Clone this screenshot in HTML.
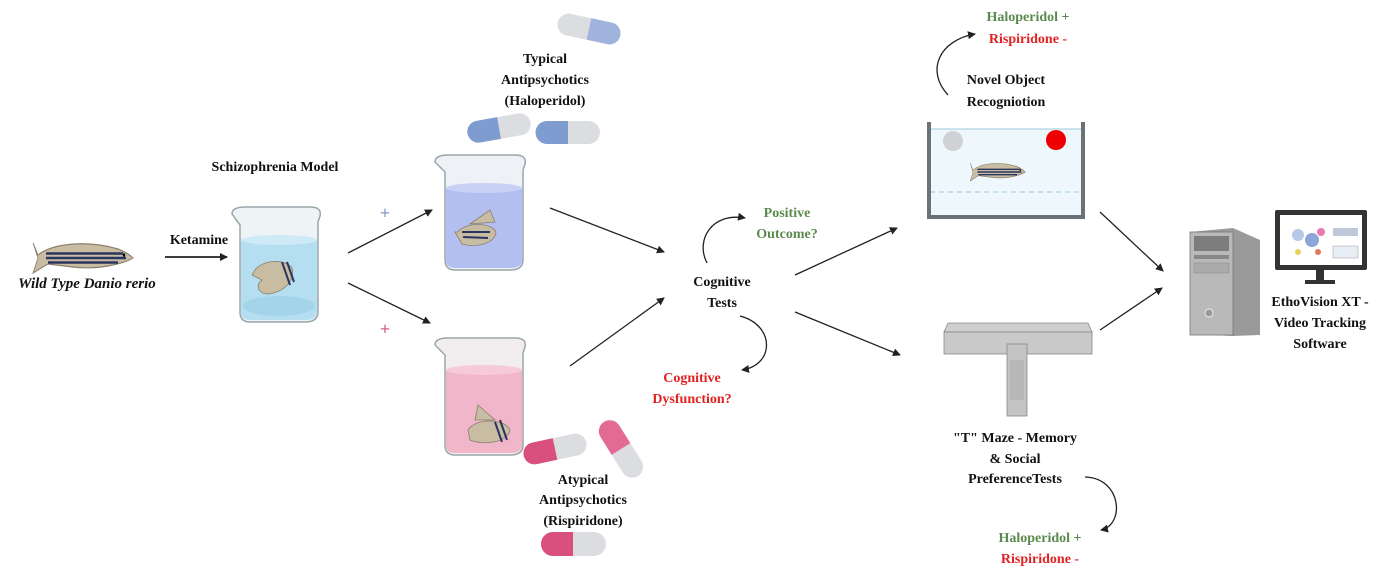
<!DOCTYPE html>
<html><head><meta charset="utf-8"><style>
body{margin:0;background:#fff}
svg{display:block}
text{font-family:"Liberation Serif",serif;font-weight:bold;font-size:14px;text-anchor:middle;fill:#111}
.g{fill:#5b8a4e}.r{fill:#e02222}
</style></head><body>
<svg width="1383" height="578" viewBox="0 0 1383 578" xmlns="http://www.w3.org/2000/svg">
<defs>
<marker id="a" markerWidth="8" markerHeight="8" refX="7" refY="4" orient="auto" markerUnits="userSpaceOnUse"><path d="M0,0 L8,4 L0,8 z" fill="#222"/></marker>
<g id="fish">
<path d="M0,8 C15,0 50,-2 80,4 C88,6 92,8 95,10 C85,14 60,18 35,16 L10,14 L-5,20 L0,10 L-5,0 z" fill="#c8bca2" stroke="#8a7f6a" stroke-width="0.8"/>
<path d="M8,7 L85,7 M8,10 L88,10 M10,13 L80,13" stroke="#2a3560" stroke-width="1.6"/>
<circle cx="86" cy="8" r="1.2" fill="#000"/>
</g>
</defs>

<!-- Left fish -->
<use href="#fish" transform="translate(38,243) scale(1,1.5)"/>
<text x="87" y="288" style="font-style:italic;font-size:15px">Wild Type Danio rerio</text>
<text x="199" y="244">Ketamine</text>
<line x1="165" y1="257" x2="227" y2="257" stroke="#222" stroke-width="1.8" marker-end="url(#a)"/>
<text x="275" y="171">Schizophrenia Model</text>

<!-- Beaker 1 -->
<g>
<path d="M232,214 Q232,207 245,207 L310,207 Q322,207 320,216 L318,222 L318,312 Q318,322 305,322 L250,322 Q240,322 240,312 L240,225 Z" fill="#eef3f5" stroke="#9aa5aa" stroke-width="1.5"/>
<path d="M241,240 L317,240 L317,312 Q317,320 305,320 L250,320 Q241,320 241,312 Z" fill="#b5dff0"/>
<ellipse cx="279" cy="240" rx="38" ry="5" fill="#cdeaf6"/>
<ellipse cx="279" cy="306" rx="36" ry="10" fill="#a4d4ea"/>
<path d="M255,270 C262,260 285,258 292,268 C295,280 285,292 268,294 C258,294 255,285 262,280 L252,275 Z" fill="#c8bca2" stroke="#8a7f6a" stroke-width="0.8"/>
<path d="M282,262 L290,285 M287,262 L294,282" stroke="#2a3560" stroke-width="2"/>
</g>

<line x1="348" y1="253" x2="432" y2="210" stroke="#222" stroke-width="1.3" marker-end="url(#a)"/>
<line x1="348" y1="283" x2="430" y2="323" stroke="#222" stroke-width="1.3" marker-end="url(#a)"/>
<text x="385" y="219" style="fill:#7f9cc8;font-size:18px">+</text>
<text x="385" y="335" style="fill:#d36088;font-size:18px">+</text>

<!-- Beaker 2 blue -->
<g>
<path d="M435,162 Q435,155 448,155 L515,155 Q527,155 525,164 L523,170 L523,260 Q523,270 510,270 L455,270 Q445,270 445,260 L445,172 Z" fill="#eef1f5" stroke="#9aa5aa" stroke-width="1.5"/>
<path d="M446,188 L522,188 L522,260 Q522,268 510,268 L455,268 Q446,268 446,260 Z" fill="#b3bff0"/>
<ellipse cx="484" cy="188" rx="38" ry="5" fill="#c9d2f6"/>
<path d="M458,232 C465,222 492,222 496,232 C495,244 475,248 462,244 L455,232 Z M470,224 L490,210 L495,222 Z" fill="#c8bca2" stroke="#8a7f6a" stroke-width="0.8"/>
<path d="M462,232 L490,232 M463,237 L488,238" stroke="#2a3560" stroke-width="2"/>
</g>

<!-- Beaker 3 pink -->
<g>
<path d="M435,345 Q435,338 448,338 L515,338 Q527,338 525,347 L523,353 L523,445 Q523,455 510,455 L455,455 Q445,455 445,445 L445,355 Z" fill="#f2eef0" stroke="#9aa5aa" stroke-width="1.5"/>
<path d="M446,370 L522,370 L522,445 Q522,453 510,453 L455,453 Q446,453 446,445 Z" fill="#f2b6ca"/>
<ellipse cx="484" cy="370" rx="38" ry="5" fill="#f6cad8"/>
<path d="M468,430 C475,418 505,418 510,430 C508,442 485,446 470,440 Z M475,420 L478,405 L495,420 Z" fill="#c8bca2" stroke="#8a7f6a" stroke-width="0.8"/>
<path d="M495,422 L502,442 M500,420 L507,440" stroke="#2a3560" stroke-width="2"/>
</g>

<!-- capsules blue -->
<g transform="rotate(12 589 29)"><rect x="557" y="18" width="64" height="22" rx="11" fill="#dcdde0"/><path d="M589,18 L610,18 A11,11 0 0 1 610,40 L589,40 Z" fill="#9fb3dc"/></g>
<text x="545" y="63">Typical</text>
<text x="545" y="84">Antipsychotics</text>
<text x="545" y="105">(Haloperidol)</text>
<g transform="rotate(-10 499 128)"><rect x="467" y="117" width="64" height="22" rx="11" fill="#dcdde0"/><path d="M499,117 L478,117 A11,11 0 0 0 478,139 L499,139 Z" fill="#7f9cd0"/></g>
<rect x="536" y="121" width="64" height="23" rx="11.5" fill="#dcdde0"/><path d="M568,121 L547,121 A11.5,11.5 0 0 0 547,144 L568,144 Z" fill="#7f9cd0"/>

<!-- capsules pink -->
<g transform="rotate(-12 555 449)"><rect x="523" y="438" width="64" height="22" rx="11" fill="#dcdde0"/><path d="M555,438 L534,438 A11,11 0 0 0 534,460 L555,460 Z" fill="#d94f7d"/></g>
<g transform="rotate(58 621 449)"><rect x="589" y="438" width="64" height="22" rx="11" fill="#dcdde0"/><path d="M621,438 L600,438 A11,11 0 0 0 600,460 L621,460 Z" fill="#e36a93"/></g>
<rect x="541" y="532" width="65" height="24" rx="12" fill="#dcdde0"/><path d="M573,532 L553,532 A12,12 0 0 0 553,556 L573,556 Z" fill="#d94f7d"/>
<text x="583" y="484">Atypical</text>
<text x="583" y="504">Antipsychotics</text>
<text x="583" y="525">(Rispiridone)</text>

<!-- to center -->
<line x1="550" y1="208" x2="664" y2="252" stroke="#222" stroke-width="1.3" marker-end="url(#a)"/>
<line x1="570" y1="366" x2="664" y2="298" stroke="#222" stroke-width="1.3" marker-end="url(#a)"/>
<text x="722" y="286">Cognitive</text>
<text x="722" y="307">Tests</text>
<path d="M707,263 C695,240 712,212 745,218" fill="none" stroke="#222" stroke-width="1.3" marker-end="url(#a)"/>
<text x="787" y="217" class="g">Positive</text>
<text x="787" y="238" class="g">Outcome?</text>
<path d="M740,316 C775,325 775,365 742,370" fill="none" stroke="#222" stroke-width="1.3" marker-end="url(#a)"/>
<text x="692" y="382" class="r">Cognitive</text>
<text x="692" y="403" class="r">Dysfunction?</text>

<line x1="795" y1="275" x2="897" y2="228" stroke="#222" stroke-width="1.3" marker-end="url(#a)"/>
<line x1="795" y1="312" x2="900" y2="355" stroke="#222" stroke-width="1.3" marker-end="url(#a)"/>

<!-- tank -->
<rect x="930" y="129" width="152" height="87" fill="#eef7fc"/>
<line x1="930" y1="129" x2="1082" y2="129" stroke="#9cc8dc" stroke-width="1"/>
<line x1="930" y1="192" x2="1082" y2="192" stroke="#9cc8dc" stroke-width="1" stroke-dasharray="5,4"/>
<rect x="927" y="122" width="4" height="97" fill="#6b7377"/>
<rect x="1081" y="122" width="4" height="97" fill="#6b7377"/>
<rect x="927" y="215" width="158" height="4" fill="#6b7377"/>
<circle cx="953" cy="141" r="10" fill="#cfd1d4"/>
<circle cx="1056" cy="140" r="10" fill="#ee0000"/>
<use href="#fish" transform="translate(973,163) scale(0.55,0.9)"/>
<text x="1006" y="84">Novel Object</text>
<text x="1006" y="106">Recogniotion</text>
<path d="M948,95 C925,70 940,40 975,34" fill="none" stroke="#222" stroke-width="1.3" marker-end="url(#a)"/>
<text x="1028" y="21" class="g">Haloperidol +</text>
<text x="1028" y="43" class="r">Rispiridone -</text>

<!-- T maze -->
<path d="M948,323 L1088,323 L1092,332 L944,332 Z" fill="#cfcfcf" stroke="#888" stroke-width="0.8"/>
<rect x="944" y="332" width="148" height="22" fill="#c9c9c9" stroke="#888" stroke-width="0.8"/>
<rect x="1007" y="344" width="20" height="72" fill="#c4c4c4" stroke="#888" stroke-width="0.8"/>
<rect x="1010" y="360" width="14" height="40" fill="#b8b8b8"/>
<text x="1015" y="442">"T" Maze - Memory</text>
<text x="1015" y="463">&amp; Social</text>
<text x="1015" y="483">PreferenceTests</text>
<path d="M1085,477 C1122,478 1125,525 1101,530" fill="none" stroke="#222" stroke-width="1.3" marker-end="url(#a)"/>
<text x="1040" y="542" class="g">Haloperidol +</text>
<text x="1040" y="563" class="r">Rispiridone -</text>

<line x1="1100" y1="212" x2="1163" y2="271" stroke="#222" stroke-width="1.3" marker-end="url(#a)"/>
<line x1="1100" y1="330" x2="1162" y2="288" stroke="#222" stroke-width="1.3" marker-end="url(#a)"/>

<!-- computer -->
<path d="M1190,232 L1233,228 L1260,240 L1260,335 L1233,336 L1190,334 Z" fill="#9a9a9a"/>
<rect x="1190" y="232" width="43" height="103" fill="#b9b9b9" stroke="#777" stroke-width="0.8"/>
<rect x="1194" y="236" width="35" height="15" fill="#7d7d7d"/>
<rect x="1194" y="255" width="35" height="4" fill="#888"/>
<rect x="1194" y="263" width="35" height="10" fill="#aaa" stroke="#888" stroke-width="0.5"/>
<circle cx="1209" cy="313" r="4" fill="#999" stroke="#eee"/>
<rect x="1275" y="210" width="92" height="60" rx="2" fill="#333"/>
<rect x="1280" y="215" width="82" height="50" fill="#fff"/>
<circle cx="1298" cy="235" r="6" fill="#b8c8e8"/><circle cx="1312" cy="240" r="7" fill="#8ca6d8"/><circle cx="1321" cy="232" r="4" fill="#e87ab0"/><circle cx="1298" cy="252" r="3" fill="#e6d25a"/><circle cx="1318" cy="252" r="3" fill="#e07a5a"/>
<rect x="1333" y="228" width="25" height="8" fill="#bfc8d8"/><rect x="1333" y="246" width="25" height="12" fill="#e8eef6" stroke="#999" stroke-width="0.5"/>
<rect x="1316" y="270" width="8" height="10" fill="#333"/><rect x="1305" y="280" width="30" height="4" fill="#333"/>
<text x="1320" y="306">EthoVision XT -</text>
<text x="1320" y="327">Video Tracking</text>
<text x="1320" y="348">Software</text>
</svg>
</body></html>
